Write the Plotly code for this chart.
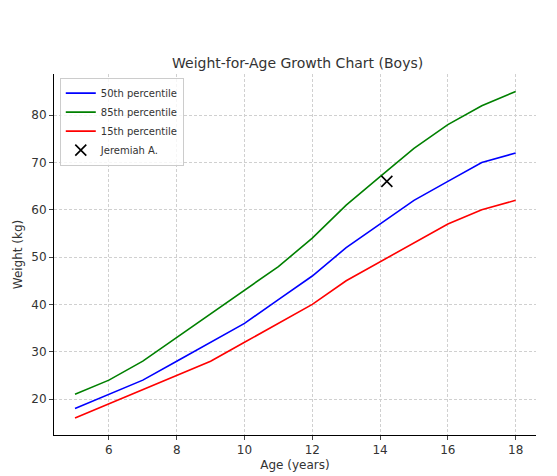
import plotly.graph_objects as go

ages = list(range(5, 19))
p50 = [18, 21, 24, 28, 32, 36, 41, 46, 52, 57, 62, 66, 70, 72]
p85 = [21, 24, 28, 33, 38, 43, 48, 54, 61, 67, 73, 78, 82, 85]
p15 = [16, 19, 22, 25, 28, 32, 36, 40, 45, 49, 53, 57, 60, 62]
child_age = [14.2]
child_weight = [66]

fig = go.Figure()
fig.add_trace(go.Scatter(x=ages, y=p50, mode="lines", name="50th percentile", line=dict(color="#0000ff", width=1.6)))
fig.add_trace(go.Scatter(x=ages, y=p85, mode="lines", name="85th percentile", line=dict(color="#008000", width=1.6)))
fig.add_trace(go.Scatter(x=ages, y=p15, mode="lines", name="15th percentile", line=dict(color="#ff0000", width=1.6)))
fig.add_trace(go.Scatter(x=child_age, y=child_weight, mode="markers", name="Jeremiah A.",
                         marker=dict(symbol="x-thin", size=11, line=dict(color="black", width=1.6), color="black")))

ax = dict(showline=True, linecolor="black", linewidth=1, ticks="outside", ticklen=4, automargin=False,
          showgrid=True, gridcolor="#d0d0d0", griddash="3px,2px", gridwidth=0.5, zeroline=False,
          tickfont=dict(size=12, color="#333"), mirror=False)
fig.update_layout(
    width=557, height=476, paper_bgcolor="white", plot_bgcolor="white",
    font=dict(family="DejaVu Sans", color="#333"),
    title=dict(text="Weight-for-Age Growth Chart (Boys)", x=0.52, y=0.885, xanchor="center", yanchor="middle",
               font=dict(size=14)),
    margin=dict(l=46, r=29, t=66, b=49),
    xaxis=dict(ax, range=[4.38, 18.6], tickvals=[6, 8, 10, 12, 14, 16, 18],
               title=dict(text="Age (years)", font=dict(size=12), standoff=4)),
    yaxis=dict(ax, range=[12.4, 88.7], tickvals=[20, 30, 40, 50, 60, 70, 80],
               title=dict(text="Weight (kg)", font=dict(size=12), standoff=6)),
    legend=dict(x=0.012, y=0.99, xanchor="left", yanchor="top", bgcolor="rgba(255,255,255,0.8)",
                bordercolor="#ccc", borderwidth=1, font=dict(size=10), tracegroupgap=0, itemwidth=30),
)
fig.write_html("out.html")
